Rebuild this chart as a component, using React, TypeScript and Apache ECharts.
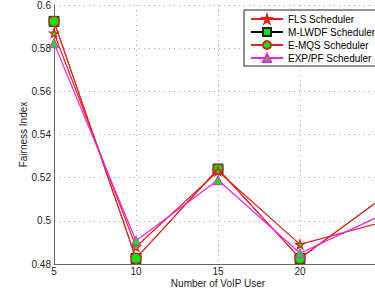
import React, { useEffect, useRef } from "react";
import * as echarts from "echarts";

const users = [5, 10, 15, 20, 25];
const flsValues = [0.587, 0.488, 0.523, 0.4891, 0.4994];
const mlwdfValues = [0.5924, 0.4826, 0.524, 0.4826, 0.5105];
const emqsValues = [0.5924, 0.4826, 0.524, 0.4826, 0.5105];
const exppfValues = [0.5823, 0.4908, 0.5189, 0.485, 0.5027];
const seriesNames = ["FLS Scheduler", "M-LWDF Scheduler", "E-MQS Scheduler", "EXP/PF Scheduler"];

const STAR = "path://M50,0 L61,35 L98,35 L68,57 L79,91 L50,70 L21,91 L32,57 L2,35 L39,35 Z";
const RED = "#e3201e";
const GREEN = "#16e016";

function pairs(vals: number[]) {
  return users.map((u, i) => [u, vals[i]]);
}

export default function App() {
  const ref = useRef<HTMLDivElement>(null);
  useEffect(() => {
    if (!ref.current) return;
    const chart = echarts.init(ref.current, null, { renderer: "svg" });
    const font = "'Liberation Sans', Arial, sans-serif";
    chart.setOption({
      animation: false,
      backgroundColor: "#fff",
      textStyle: { fontFamily: font },
      grid: { left: 54, top: 5, width: 328, height: 259, outerBoundsMode: "none", containLabel: false },
      legend: {
        orient: "vertical",
        left: 244,
        top: 10,
        data: seriesNames,
        backgroundColor: "#fff",
        borderColor: "#222",
        borderWidth: 1,
        borderRadius: 0,
        padding: [4, 6, 3, 6],
        itemGap: 3,
        itemWidth: 32,
        itemHeight: 10,
        textStyle: { fontSize: 10, color: "#000", fontFamily: font },
      },
      xAxis: {
        type: "value",
        min: 5,
        max: 25,
        interval: 5,
        name: "Number of VoIP User",
        nameLocation: "middle",
        nameGap: 14,
        nameMoveOverlap: false,
        nameTextStyle: { fontSize: 10, color: "#222" },
        axisLine: { show: true, onZero: false, lineStyle: { color: "#666", width: 1 } },
        axisTick: { show: false },
        axisLabel: { fontSize: 10, color: "#222", margin: 2, showMaxLabel: false },
        splitLine: { show: true, lineStyle: { color: "#aaa", type: [1, 4], width: 1 } },
      },
      yAxis: {
        type: "value",
        min: 0.48,
        max: 0.6,
        interval: 0.02,
        name: "Fairness Index",
        nameLocation: "middle",
        nameGap: 26,
        nameMoveOverlap: false,
        nameTextStyle: { fontSize: 10, color: "#222" },
        axisLine: { show: true, onZero: false, lineStyle: { color: "#666", width: 1 } },
        axisTick: { show: false },
        axisLabel: { fontSize: 10, color: "#222", margin: 3 },
        splitLine: { show: true, lineStyle: { color: "#aaa", type: [1, 4], width: 1 } },
      },
      series: [
        {
          name: "M-LWDF Scheduler",
          type: "line",
          data: pairs(mlwdfValues),
          symbol: "rect",
          symbolSize: 10,
          lineStyle: { color: "#000", width: 0.6 },
          itemStyle: { color: GREEN, borderColor: "#222", borderWidth: 1 },
          z: 2,
        },
        {
          name: "E-MQS Scheduler",
          type: "line",
          data: pairs(emqsValues),
          symbol: "circle",
          symbolSize: 10,
          lineStyle: { color: RED, width: 1.3 },
          itemStyle: { color: GREEN, borderColor: "#c0301c", borderWidth: 1.2 },
          z: 3,
        },
        {
          name: "FLS Scheduler",
          type: "line",
          data: pairs(flsValues),
          symbol: STAR,
          symbolSize: 9,
          lineStyle: { color: RED, width: 1.2 },
          itemStyle: { color: GREEN, borderColor: RED, borderWidth: 1.2 },
          z: 4,
        },
        {
          name: "EXP/PF Scheduler",
          type: "line",
          data: pairs(exppfValues),
          symbol: "triangle",
          symbolSize: 9,
          lineStyle: { color: "#ee22ee", width: 1.2 },
          itemStyle: { color: GREEN, borderColor: "#ee22ee", borderWidth: 1 },
          z: 5,
        },
      ],
    });
    return () => chart.dispose();
  }, []);
  return (
    <div style={{ position: "absolute", left: 0, top: 0, width: 375, height: 289, overflow: "hidden", background: "#fff" }}>
      <div ref={ref} style={{ width: 430, height: 289 }} />
    </div>
  );
}
